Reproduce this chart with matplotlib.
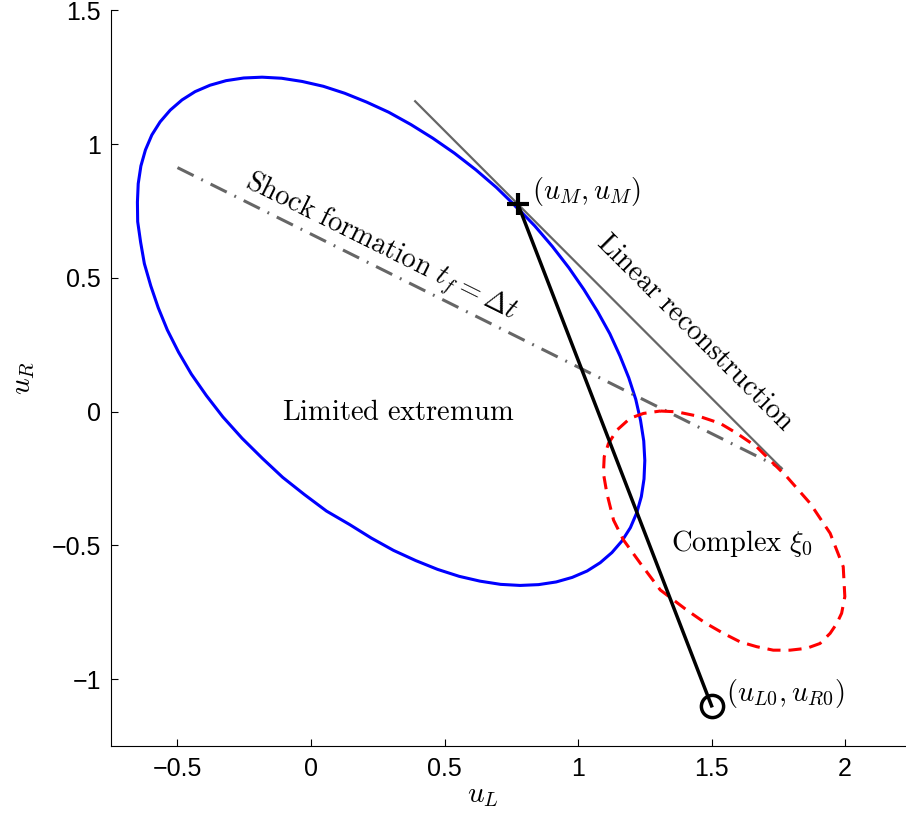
import matplotlib
matplotlib.use("Agg")
import matplotlib.pyplot as plt

plt.rcParams["mathtext.fontset"] = "cm"
plt.rcParams["font.family"] = ["Liberation Sans", "DejaVu Sans"]

# limited-extremum boundary (closed curve, read point by point)
limited_x = [0.767, 0.838, 0.904, 0.966, 1.022, 1.073, 1.119, 1.157, 1.190,
             1.216, 1.234, 1.246, 1.250, 1.247, 1.237, 1.220, 1.196, 1.165,
             1.127, 1.083, 1.034, 0.978, 0.918, 0.852, 0.783, 0.710, 0.633,
             0.555, 0.474, 0.392, 0.309, 0.226, 0.144, 0.058, -0.025, -0.106,
             -0.182, -0.258, -0.330, -0.392, -0.448, -0.496, -0.538, -0.572, -0.600,
             -0.624, -0.638, -0.649, -0.650, -0.647, -0.637, -0.620, -0.596, -0.565,
             -0.527, -0.483, -0.434, -0.378, -0.318, -0.252, -0.183, -0.110, -0.033,
             0.046, 0.126, 0.208, 0.291, 0.374, 0.456, 0.537, 0.617, 0.694, 0.767]
limited_y = [0.767, 0.694, 0.617, 0.537, 0.456, 0.374, 0.291, 0.208, 0.126,
             0.046, -0.033, -0.110, -0.183, -0.252, -0.318, -0.378, -0.434, -0.483,
             -0.527, -0.565, -0.596, -0.620, -0.637, -0.647, -0.650, -0.646, -0.634,
             -0.616, -0.590, -0.557, -0.519, -0.473, -0.422, -0.372, -0.310, -0.246,
             -0.175, -0.100, -0.020, 0.060, 0.140, 0.222, 0.305, 0.388, 0.470,
             0.553, 0.633, 0.710, 0.783, 0.852, 0.918, 0.978, 1.034, 1.083,
             1.127, 1.165, 1.196, 1.220, 1.237, 1.247, 1.250, 1.246, 1.234,
             1.216, 1.190, 1.157, 1.119, 1.073, 1.022, 0.966, 0.904, 0.838, 0.767]

# complex xi_0 region boundary (closed curve)
complex_x = [1.308, 1.370, 1.457, 1.532, 1.594, 1.669, 1.782, 1.869, 1.944,
             1.993, 1.999, 1.987, 1.969, 1.944, 1.906, 1.856, 1.794, 1.731,
             1.669, 1.607, 1.544, 1.476, 1.407, 1.308, 1.233, 1.170, 1.133,
             1.108, 1.095, 1.098, 1.114, 1.146, 1.195, 1.245, 1.308]
complex_y = [0.002, -0.001, -0.019, -0.044, -0.081, -0.132, -0.244, -0.343, -0.455,
             -0.580, -0.692, -0.754, -0.792, -0.829, -0.867, -0.885, -0.892, -0.892,
             -0.879, -0.861, -0.829, -0.790, -0.742, -0.667, -0.567, -0.480, -0.406,
             -0.306, -0.231, -0.169, -0.119, -0.069, -0.025, -0.007, 0.002]

# linear reconstruction and shock formation lines
linear_x = [0.39, 1.763]
linear_y = [1.16, -0.213]
shock_x = [-0.50, 1.763]
shock_y = [0.912, -0.213]

# path from (u_M, u_M) to (u_L0, u_R0)
u_M = 0.775
u_L0, u_R0 = 1.5, -1.1
path_x = [u_M, u_L0]
path_y = [u_M, u_R0]

x_ticks = [-0.5, 0, 0.5, 1, 1.5, 2]
x_tick_labels = ["\u22120.5", "0", "0.5", "1", "1.5", "2"]
y_ticks = [-1, -0.5, 0, 0.5, 1, 1.5]
y_tick_labels = ["\u22121", "\u22120.5", "0", "0.5", "1", "1.5"]

GRAY = "#666666"

fig = plt.figure(figsize=(9.06, 8.18), dpi=100)
ax = fig.add_axes([0.1222, 0.0881, 0.8769, 0.8993])

ax.plot(limited_x, limited_y, color="blue", lw=2.2, solid_joinstyle="round", zorder=2)
ax.plot(shock_x, shock_y, color=GRAY, lw=2.2, dashes=(5.9, 2.8, 0.6, 2.8), zorder=3)
ax.plot(linear_x, linear_y, color=GRAY, lw=1.6, zorder=3)
ax.plot(complex_x, complex_y, color="red", lw=2.2, dashes=(4.3, 2.6), zorder=4)
ax.plot(path_x, path_y, color="black", lw=2.5, zorder=5)
ax.plot([u_M], [u_M], marker="+", color="black", ms=16, mew=3, zorder=6)
ax.plot([u_L0], [u_R0], marker="o", mfc="none", mec="black", ms=16, mew=2.5, zorder=6)

txt = dict(fontsize=20.5, color="black", zorder=7)
ax.text(0.828, 0.822, r"$(u_M, u_M)$", ha="left", va="center", **txt)
ax.text(1.555, -1.053, r"$(u_{L0}, u_{R0})$", ha="left", va="center", **txt)
ax.text(0.327, -0.005, r"$\mathrm{Limited\ extremum}$", ha="center", va="center", **txt)
ax.text(1.614, -0.492, r"$\mathrm{Complex}\ \xi_0$", ha="center", va="center", **txt)
ax.text(0.260, 0.611, r"$\mathrm{Shock\ formation}\ t_f = \Delta t$", ha="center", va="center",
        rotation=-26.4, rotation_mode="anchor", **txt)
ax.text(1.438, 0.293, r"$\mathrm{Linear\ reconstruction}$", ha="center", va="center",
        rotation=-45, rotation_mode="anchor", **txt)

ax.set_xlim(-0.75, 2.225)
ax.set_ylim(-1.25, 1.5)
ax.set_xticks(x_ticks)
ax.set_xticklabels(x_tick_labels)
ax.set_yticks(y_ticks)
ax.set_yticklabels(y_tick_labels)
ax.tick_params(direction="in", length=5, width=0.8, labelsize=18, pad=8)
ax.tick_params(axis="y", pad=7)

for side in ["top", "right"]:
    ax.spines[side].set_visible(False)
for side in ["left", "bottom"]:
    ax.spines[side].set_linewidth(0.8)

ax.set_xlabel(r"$u_L$", fontsize=21)
ax.set_ylabel(r"$u_R$", fontsize=21)
ax.xaxis.set_label_coords(0.468, -0.067)
ax.xaxis.label.set_va("center")
ax.yaxis.set_label_coords(-0.110, 0.50)
ax.yaxis.label.set_va("center")

fig.savefig("out.png", dpi=100, facecolor="white")
